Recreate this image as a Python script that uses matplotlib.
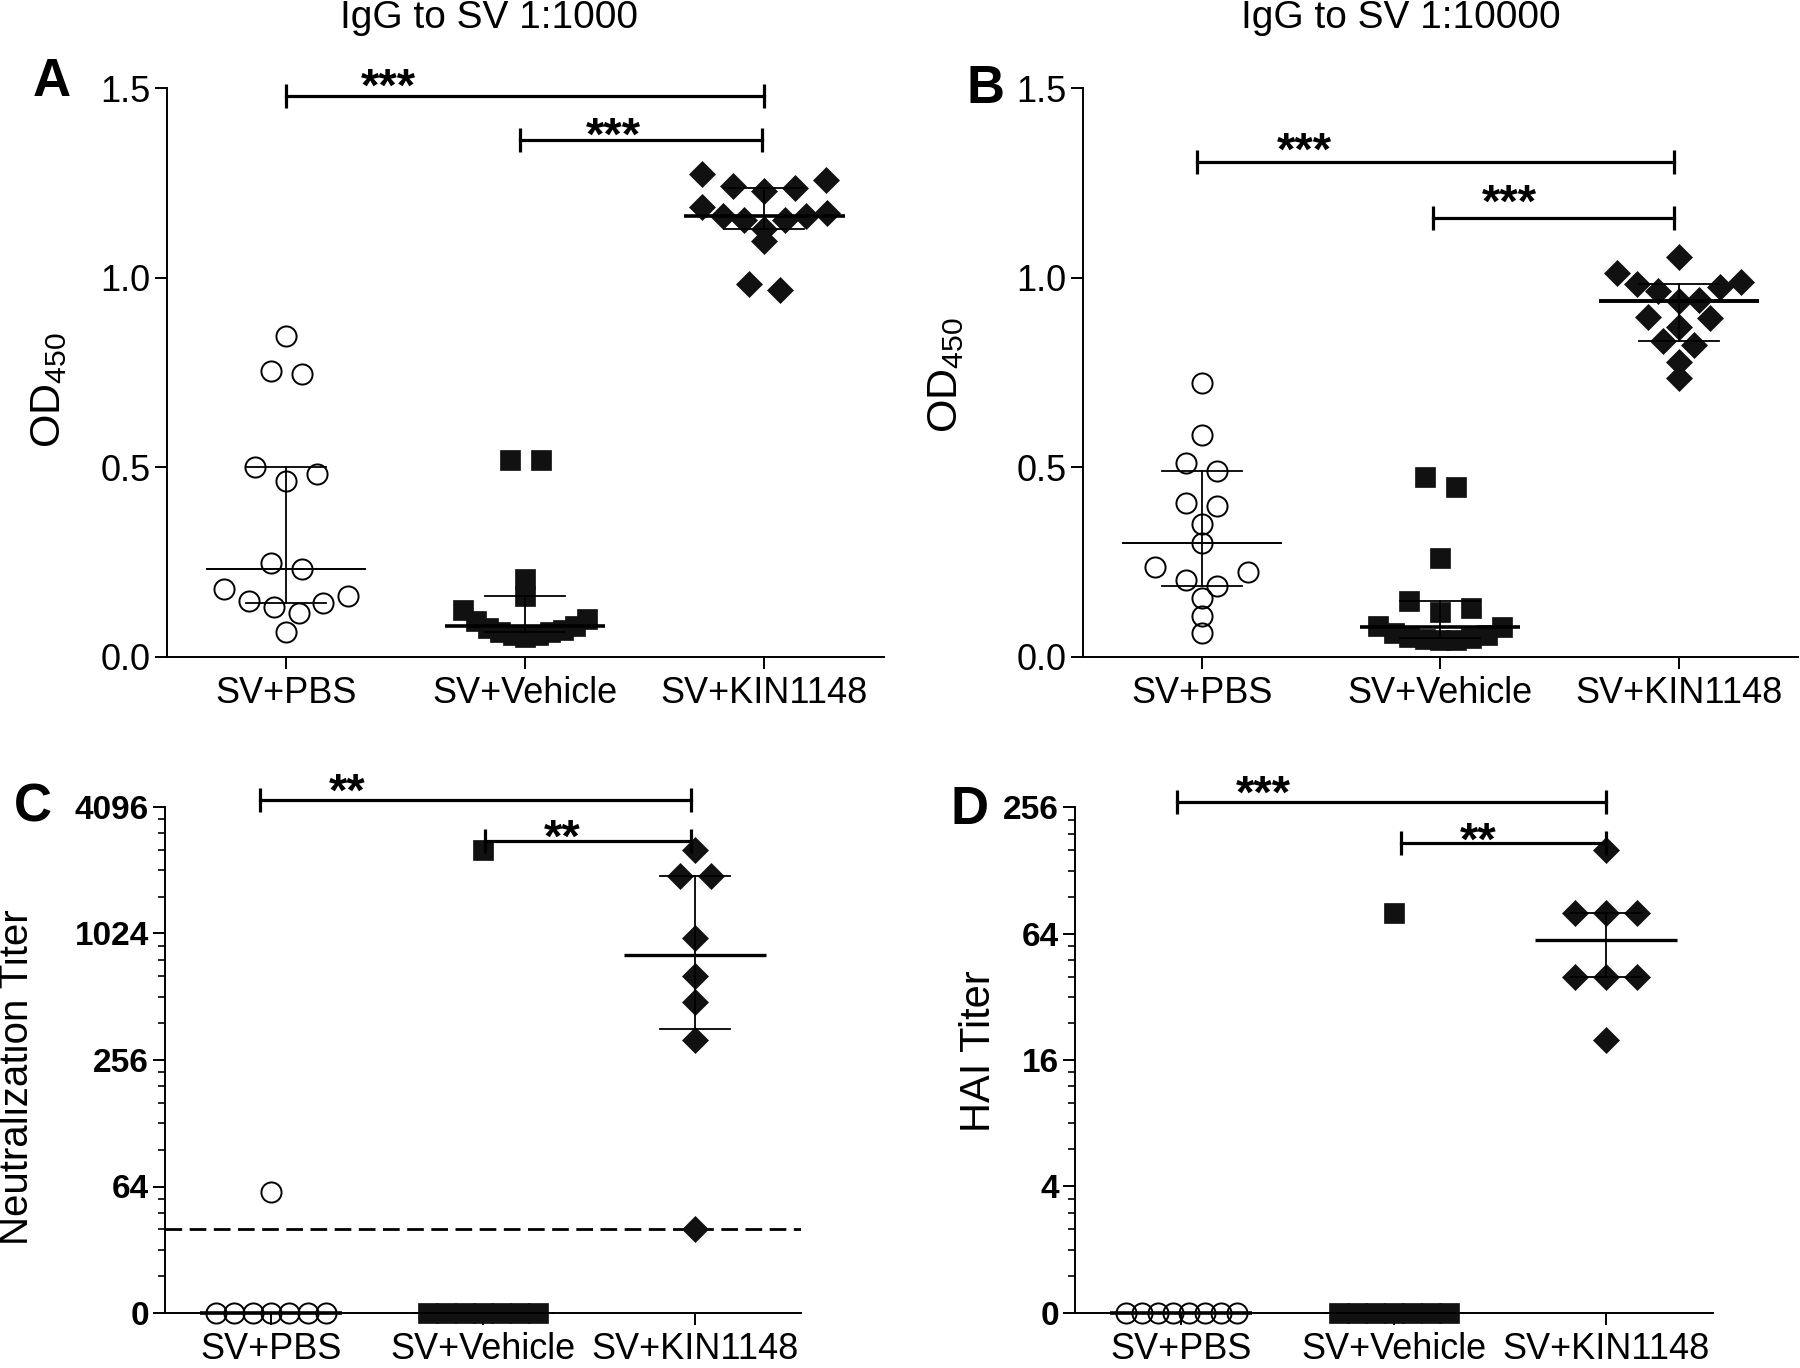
import numpy as np
import matplotlib
matplotlib.use('Agg')
import matplotlib.pyplot as plt
from matplotlib.ticker import NullFormatter

plt.rcParams['font.family'] = ['Liberation Sans', 'DejaVu Sans']
plt.rcParams['mathtext.fontset'] = 'custom'
plt.rcParams['mathtext.rm'] = 'Liberation Sans'

groups = ['SV+PBS', 'SV+Vehicle', 'SV+KIN1148']

# A: IgG to SV 1:1000 (OD450)
a_pbs = [0.846, 0.746, 0.754, 0.484, 0.502, 0.464, 0.247, 0.231, 0.180, 0.161, 0.148, 0.143, 0.131, 0.117, 0.067]
a_veh = [0.519, 0.521, 0.205, 0.162, 0.125, 0.099, 0.094, 0.081, 0.076, 0.072, 0.066, 0.066, 0.059, 0.057, 0.053]
a_kin = [1.275, 1.258, 1.243, 1.236, 1.229, 1.187, 1.170, 1.163, 1.163, 1.152, 1.152, 1.130, 1.098, 0.983, 0.968]
a_sig = ['***', '***']

# B: IgG to SV 1:10000 (OD450)
b_pbs = [0.722, 0.585, 0.513, 0.491, 0.405, 0.399, 0.352, 0.302, 0.238, 0.223, 0.203, 0.187, 0.156, 0.109, 0.062]
b_veh = [0.474, 0.449, 0.262, 0.148, 0.130, 0.118, 0.083, 0.080, 0.062, 0.057, 0.053, 0.050, 0.048, 0.046, 0.045]
b_kin = [1.055, 1.013, 0.988, 0.985, 0.976, 0.965, 0.943, 0.939, 0.897, 0.893, 0.871, 0.834, 0.824, 0.777, 0.735]
b_sig = ['***', '***']

# C: neutralization titer (0 = below detection)
c_pbs = [60, 0, 0, 0, 0, 0, 0, 0]
c_veh = [2560, 0, 0, 0, 0, 0, 0, 0]
c_kin = [2560, 1930, 1930, 970, 640, 485, 320, 40]
c_limit = 40
c_sig = ['**', '**']

# D: HAI titer
d_pbs = [0, 0, 0, 0, 0, 0, 0, 0]
d_veh = [80, 0, 0, 0, 0, 0, 0, 0]
d_kin = [160, 80, 80, 80, 40, 40, 40, 20]
d_sig = ['***', '**']

W, H = 1800, 1368
fig = plt.figure(figsize=(18, 13.68), dpi=100)

styles = [dict(marker='o', mfc='none', mec='black', ms=14.5, mew=1.4),
          dict(marker='s', mfc='#111111', mec='#111111', ms=14.5, mew=0.5),
          dict(marker='D', mfc='#111111', mec='#111111', ms=13.5, mew=0.5)]


def make_ax(l, t, r, b):
    ax = fig.add_axes([l / W, 1 - b / H, (r - l) / W, (b - t) / H])
    ax.spines[['top', 'right']].set_visible(False)
    ax.spines[['left', 'bottom']].set_linewidth(1.4)
    ax.set_xlim(-0.5, 2.5)
    ax.set_xticks(range(3))
    ax.set_xticklabels(groups, fontsize=26)
    ax.tick_params(axis='both', which='major', direction='out', length=8.6, width=1.4)
    ax.tick_params(axis='y', which='minor', direction='out', length=5, width=1.2)
    ax.tick_params(axis='x', pad=5)
    ax.tick_params(axis='y', pad=3)
    return ax


def swarm_x(ax, xc, y):
    # rows of close values spread side by side, lowest value in the middle
    pts = ax.transData.transform(np.column_stack([np.full(len(y), float(xc)), y]))
    py = pts[:, 1]
    ref = ax.transData.transform([(0, y[0]), (1, y[0])])
    slot = 31 / (ref[1, 0] - ref[0, 0])
    order = np.argsort(py, kind='stable')
    rows, cur = [], [order[0]]
    for a, b in zip(order[:-1], order[1:]):
        if py[b] - py[a] < 11:
            cur.append(b)
        else:
            rows.append(cur)
            cur = [b]
    rows.append(cur)
    xs = np.full(len(y), float(xc))
    for r in rows:
        n = len(r)
        if n == 1:
            continue
        step = min(slot, 0.52 / (n - 1))
        slots = sorted(np.arange(n) - (n - 1) / 2, key=lambda s: (abs(s), -s))
        for idx, s in zip(r, slots):
            xs[idx] = xc + s * step
    return xs


def draw_groups(ax, data, mlw, floor=None):
    for i, (vals, st) in enumerate(zip(data, styles)):
        v = np.asarray(vals, float)
        q1, med, q3 = np.percentile(v, [25, 50, 75], method='weibull')
        if floor is not None:
            v = np.where(v > 0, v, floor)
            q1, med, q3 = [max(q, floor) for q in (q1, med, q3)]
        xs = swarm_x(ax, i, v)
        ax.plot(xs, v, ls='none', zorder=3, clip_on=False, **st)
        ax.plot([i - 0.335, i + 0.335], [med, med], color='black', lw=mlw[i],
                solid_capstyle='butt', zorder=4, clip_on=False)
        if q3 > q1:
            ax.plot([i, i], [q1, q3], color='black', lw=1.3, zorder=4)
            for q in (q1, q3):
                ax.plot([i - 0.167, i + 0.167], [q, q], color='black', lw=1.3, zorder=4)


def sig(ax, x1, x2, y, text, tx, ty):
    ax.plot([x1, x2], [y, y], color='black', lw=2.3, marker='|', ms=17, mew=2.3,
            clip_on=False, zorder=5)
    ax.annotate(text, xy=(tx, ty), xytext=(0, -19), textcoords='offset points',
                ha='center', va='baseline', fontsize=34, fontweight='bold',
                annotation_clip=False)


def log_axis(ax, majors, labels):
    ax.set_yscale('log', base=2)
    ax.set_ylim(majors[0], majors[-1])
    ax.set_yticks(majors)
    ax.set_yticklabels(labels, fontsize=24, fontweight='bold')
    minors = []
    for m0, m1 in zip(majors[:-1], majors[1:]):
        minors += [m0 + k * (m1 - m0) / 6 for k in range(1, 6)]
    ax.set_yticks(minors, minor=True)
    ax.yaxis.set_minor_formatter(NullFormatter())


# panel A
axA = make_ax(166.5, 88.4, 884, 657)
axA.set_ylim(0, 1.5)
axA.set_yticks([0, 0.5, 1.0, 1.5])
axA.set_yticklabels(['0.0', '0.5', '1.0', '1.5'], fontsize=26)
draw_groups(axA, [a_pbs, a_veh, a_kin], mlw=[1.4, 2.6, 2.6])
sig(axA, 0, 2, 1.479, a_sig[0], 0.43, 1.538)
sig(axA, 0.98, 1.99, 1.364, a_sig[1], 1.37, 1.408)

# panel B
axB = make_ax(1082.5, 88.4, 1798, 657)
axB.set_ylim(0, 1.5)
axB.set_yticks([0, 0.5, 1.0, 1.5])
axB.set_yticklabels(['0.0', '0.5', '1.0', '1.5'], fontsize=26)
draw_groups(axB, [b_pbs, b_veh, b_kin], mlw=[1.4, 2.6, 2.8])
sig(axB, -0.02, 1.98, 1.306, b_sig[0], 0.43, 1.367)
sig(axB, 0.97, 1.98, 1.159, b_sig[1], 1.29, 1.232)

# panel C
axC = make_ax(165, 807, 801, 1313)
log_axis(axC, [16, 64, 256, 1024, 4096], ['0', '64', '256', '1024', '4096'])
axC.axhline(c_limit, color='black', lw=2, ls=(0, (6, 2.7)), zorder=2)
draw_groups(axC, [c_pbs, c_veh, c_kin], mlw=[2.6, 1.4, 2.4], floor=16)
sig(axC, -0.05, 1.98, 4421, c_sig[0], 0.36, 5576)
sig(axC, 1.01, 1.98, 2832, c_sig[1], 1.375, 3335)

# panel D
axD = make_ax(1075, 807.4, 1712.5, 1312.7)
log_axis(axD, [1, 4, 16, 64, 256], ['0', '4', '16', '64', '256'])
draw_groups(axD, [d_pbs, d_veh, d_kin], mlw=[2.6, 1.4, 2.4], floor=1)
sig(axD, -0.02, 2.0, 273, d_sig[0], 0.385, 342)
sig(axD, 1.035, 2.0, 173, d_sig[1], 1.40, 203)

# titles, panel letters, y labels (figure pixel positions)
def ftext(x, y, s, **kw):
    fig.text(x / W, 1 - y / H, s, **kw)

ftext(489, 28, 'IgG to SV 1:1000', ha='center', va='baseline', fontsize=28)
ftext(1401, 28, 'IgG to SV 1:10000', ha='center', va='baseline', fontsize=28)
ftext(52, 82, 'A', ha='center', va='center', fontsize=38, fontweight='bold')
ftext(986, 89, 'B', ha='center', va='center', fontsize=38, fontweight='bold')
ftext(33, 807, 'C', ha='center', va='center', fontsize=38, fontweight='bold')
ftext(970, 810, 'D', ha='center', va='center', fontsize=38, fontweight='bold')
ftext(49, 390, r'OD$_{\mathregular{450}}$', ha='center', va='center', rotation=90, fontsize=31)
ftext(946, 375, r'OD$_{\mathregular{450}}$', ha='center', va='center', rotation=90, fontsize=31)
ftext(17, 1077, 'Neutralization Titer', ha='center', va='center', rotation=90, fontsize=29)
ftext(979, 1051, 'HAI Titer', ha='center', va='center', rotation=90, fontsize=30)

fig.savefig('out.png', dpi=100)
